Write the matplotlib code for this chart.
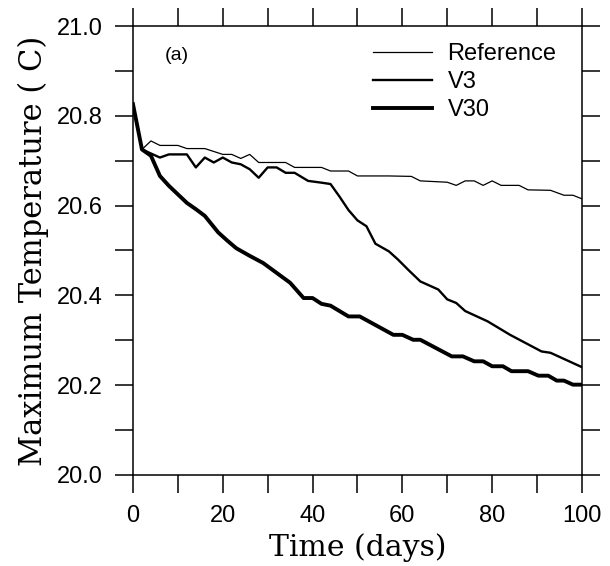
import matplotlib
matplotlib.use("Agg")
import matplotlib.pyplot as plt
from matplotlib.ticker import MultipleLocator

#DATA

ref_days = [0, 2, 4, 6, 10, 12, 16, 20, 22, 24, 26, 28, 34, 36, 42, 44, 48, 50, 57, 62,
            64, 70, 72, 74, 76, 78, 80, 82, 86, 88, 93, 96, 98, 100]
ref_vals = [20.826, 20.725, 20.744, 20.734, 20.734, 20.727, 20.727, 20.714, 20.714, 20.705,
            20.714, 20.696, 20.696, 20.685, 20.685, 20.677, 20.677, 20.666, 20.666, 20.665,
            20.655, 20.652, 20.645, 20.655, 20.655, 20.645, 20.655, 20.645, 20.645, 20.635,
            20.634, 20.623, 20.623, 20.615]

v3_days = [0, 2, 6, 8, 12, 14, 16, 18, 20, 22, 24, 26, 28, 30, 32, 34, 36, 39, 42, 44,
           46, 48, 50, 52, 54, 57, 59, 61.5, 64, 68, 70, 72, 74, 79, 84, 91, 93, 100]
v3_vals = [20.826, 20.725, 20.707, 20.714, 20.714, 20.685, 20.707, 20.696, 20.707, 20.696,
           20.692, 20.681, 20.662, 20.685, 20.685, 20.673, 20.673, 20.655, 20.651, 20.648,
           20.620, 20.590, 20.567, 20.554, 20.515, 20.498, 20.480, 20.455, 20.431, 20.413,
           20.391, 20.383, 20.365, 20.342, 20.312, 20.275, 20.272, 20.240]

v30_days = [0, 2, 4, 6, 8, 12, 14, 16, 19, 21, 23, 26, 29, 32, 35, 38, 40, 42, 44, 48,
            50.5, 58, 60, 62.4, 64, 71, 73.5, 76, 78, 80, 82.4, 84.3, 88, 90.3, 92.5, 94.4,
            96, 98, 100]
v30_vals = [20.826, 20.725, 20.711, 20.666, 20.644, 20.606, 20.592, 20.577, 20.540, 20.522,
            20.505, 20.488, 20.472, 20.450, 20.428, 20.394, 20.394, 20.381, 20.377, 20.353,
            20.353, 20.312, 20.312, 20.301, 20.301, 20.264, 20.264, 20.253, 20.253, 20.242,
            20.242, 20.231, 20.231, 20.221, 20.221, 20.210, 20.210, 20.201, 20.201]

#PLOT

fig = plt.figure(figsize=(6.1, 5.66), dpi=100)
ax = fig.add_axes([0.218, 0.161, 0.736, 0.793])

ax.plot(ref_days, ref_vals, "k", lw=0.9, label="Reference")
ax.plot(v3_days, v3_vals, "k", lw=1.7, label="V3")
ax.plot(v30_days, v30_vals, "k", lw=2.8, label="V30")

ax.set_xlim(0, 100)
ax.set_ylim(20.0, 21.0)
ax.xaxis.set_major_locator(MultipleLocator(20))
ax.xaxis.set_minor_locator(MultipleLocator(10))
ax.yaxis.set_major_locator(MultipleLocator(0.2))
ax.yaxis.set_minor_locator(MultipleLocator(0.1))
ax.yaxis.set_major_formatter(plt.FormatStrFormatter("%.1f"))

ax.tick_params(which="both", direction="out", length=13, width=1.1,
               top=True, right=True, labelsize=17, pad=9)
for lab in ax.get_xticklabels() + ax.get_yticklabels():
    lab.set_family("Liberation Sans")
for sp in ax.spines.values():
    sp.set_linewidth(1.1)

ax.set_xlabel("Time (days)", family="DejaVu Serif", fontsize=21.5, labelpad=4)
ax.set_ylabel("Maximum Temperature ( C)", family="DejaVu Serif", fontsize=22, labelpad=5)

ax.text(0.071, 0.935, "(a)", transform=ax.transAxes, fontsize=14,
        family="Liberation Sans", ha="left", va="center")

ax.legend(loc="upper left", bbox_to_anchor=(0.535, 0.962), frameon=False,
          prop={"family": "Liberation Sans", "size": 17}, handlelength=2.5,
          handletextpad=0.65, labelspacing=0.25, borderpad=0, borderaxespad=0)

plt.savefig("out.png", dpi=100)
